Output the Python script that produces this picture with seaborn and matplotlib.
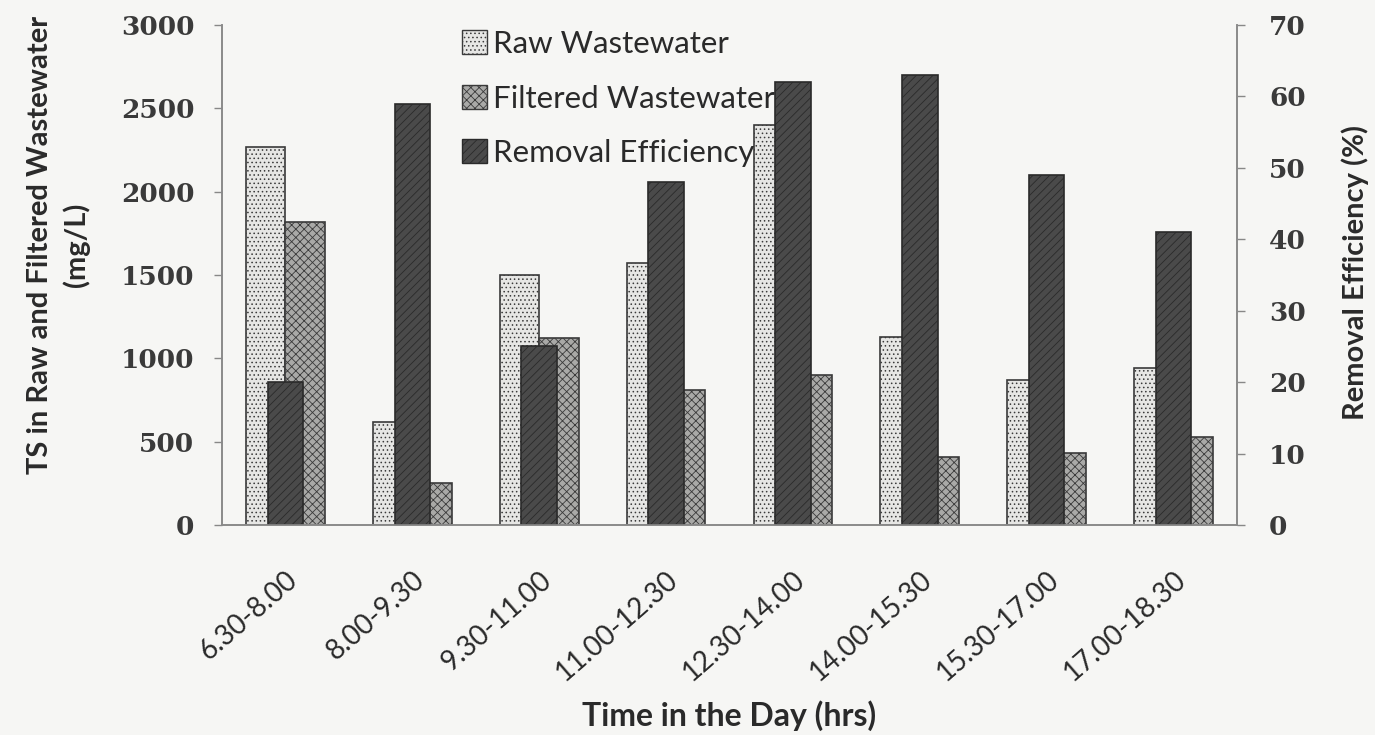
import numpy as np
import pandas as pd
import matplotlib
matplotlib.use("Agg")
import matplotlib.pyplot as plt
import seaborn as sns
from matplotlib.patches import Patch

# ---- data ----
times = ["6.30-8.00", "8.00-9.30", "9.30-11.00", "11.00-12.30",
         "12.30-14.00", "14.00-15.30", "15.30-17.00", "17.00-18.30"]
raw_ww = [2270, 620, 1500, 1570, 2400, 1130, 870, 940]
filtered_ww = [1820, 250, 1125, 810, 900, 410, 430, 530]
removal_eff = [20, 59, 25, 48, 62, 63, 49, 41]
series_names = ["Raw Wastewater", "Filtered Wastewater", "Removal Efficiency"]
left_ticks = [0, 500, 1000, 1500, 2000, 2500, 3000]
right_ticks = [0, 10, 20, 30, 40, 50, 60, 70]

sns.set_theme(style="white")
plt.rcParams["font.family"] = ["Lato", "DejaVu Sans"]
plt.rcParams["hatch.color"] = "#8a8a88"
plt.rcParams["hatch.linewidth"] = 0.6

df_ts = pd.DataFrame({
    "time": times * 2,
    "value": raw_ww + filtered_ww,
    "series": [series_names[0]] * len(times) + [series_names[1]] * len(times),
})
df_eff = pd.DataFrame({"time": times, "value": removal_eff})

bg = "#f6f6f4"
txt = "#2a2a2a"
fig = plt.figure(figsize=(13.75, 7.35), dpi=100, facecolor=bg)
ax = fig.add_axes([0.1615, 0.2857, 0.7381, 0.6803])
ax.set_facecolor("none")

raw_col, filt_col, eff_col = "#e6e6e4", "#a9a9a7", "#4a4a4a"
sns.barplot(data=df_ts, x="time", y="value", hue="series", order=times,
            hue_order=series_names[:2], palette=[raw_col, filt_col],
            width=0.62, dodge=True, ax=ax, legend=False,
            edgecolor="#3a3a3a", linewidth=1.2, saturation=1)
hatches = ["....", "xxxx"]
for i, cont in enumerate(ax.containers):
    for p in cont:
        p.set_hatch(hatches[i])

ax2 = ax.twinx()
sns.barplot(data=df_eff, x="time", y="value", order=times, color=eff_col,
            width=0.28, ax=ax2, edgecolor="#2a2a2a", linewidth=1.2,
            saturation=1)
for p in ax2.patches:
    p.set_hatch("////")

ax.set_xlim(-0.5, len(times) - 0.5)
ax.set_ylim(0, 3000)
ax2.set_ylim(0, 70)
ax.set_yticks(left_ticks)
ax2.set_yticks(right_ticks)

tick_font = dict(family="DejaVu Serif", weight="bold", size=19)
ax.set_yticklabels([str(t) for t in left_ticks], fontdict=tick_font, color="#3a3a3a")
ax2.set_yticklabels([str(t) for t in right_ticks], fontdict=tick_font, color="#3a3a3a")

ax.set_xticks(range(len(times)))
ax.set_xticklabels(times, rotation=41, ha="right", rotation_mode="anchor",
                   fontsize=20, color=txt)
ax.set_xticks(np.arange(-0.5, len(times), 1), minor=True)
ax.tick_params(axis="x", which="major", length=0, pad=30)
ax.tick_params(axis="x", which="minor", length=7, width=1, color="#888888", direction="out")
ax.tick_params(axis="y", length=6, width=1, color="#888888", direction="out", pad=14)
ax2.tick_params(axis="y", length=6, width=1, color="#888888", direction="out", pad=17)

for a in (ax, ax2):
    a.spines["top"].set_visible(False)
    for s in ("left", "right", "bottom"):
        a.spines[s].set_color("#8a8a8a")
        a.spines[s].set_linewidth(1.2)

ax.set_xlabel("Time in the Day (hrs)", fontsize=23, fontweight="bold", color=txt)
ax.xaxis.set_label_coords(0.5, -0.35)
ax.set_ylabel("TS in Raw and Filtered Wastewater\n(mg/L)", fontsize=21,
              fontweight="bold", color=txt, linespacing=1.4)
ax.yaxis.set_label_coords(-0.13, 0.56)
ax2.set_ylabel("Removal Efficiency (%)", fontsize=21, fontweight="bold", color=txt)
ax2.yaxis.set_label_coords(1.103, 0.505)

handles = [Patch(facecolor=raw_col, edgecolor="#3a3a3a", hatch="...."),
           Patch(facecolor=filt_col, edgecolor="#3a3a3a", hatch="xxxx"),
           Patch(facecolor=eff_col, edgecolor="#2a2a2a", hatch="////")]
leg = ax.legend(handles, series_names, loc="upper left", bbox_to_anchor=(0.2365, 0.99),
                frameon=False, fontsize=22.5, labelspacing=0.85, handlelength=0.8,
                handleheight=0.8, handletextpad=0.2, borderaxespad=0, borderpad=0)
for t in leg.get_texts():
    t.set_color(txt)

fig.savefig("out.png", dpi=100, facecolor=bg)
